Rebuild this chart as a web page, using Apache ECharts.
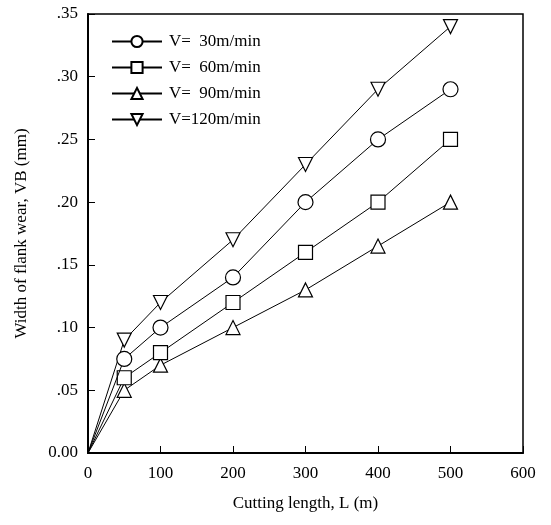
<!DOCTYPE html>
<html>
<head>
<meta charset="utf-8">
<script src="https://cdn.jsdelivr.net/npm/echarts@6/dist/echarts.min.js"></script>
<style>
  html, body { margin: 0; padding: 0; background: #fff; }
  #chart { width: 551px; height: 525px; }
</style>
</head>
<body>
<div id="chart"></div>
<script>
const lengths = [0, 50, 100, 200, 300, 400, 500]
const wearV30 = [0, 0.075, 0.10, 0.14, 0.20, 0.25, 0.29]
const wearV60 = [0, 0.06, 0.08, 0.12, 0.16, 0.20, 0.25]
const wearV90 = [0, 0.05, 0.07, 0.10, 0.13, 0.165, 0.20]
const wearV120 = [0, 0.09, 0.12, 0.17, 0.23, 0.29, 0.34]
const seriesNames = ['V=  30m/min', 'V=  60m/min', 'V=  90m/min', 'V=120m/min']
const yTickLabels = ['0.00', '.05', '.10', '.15', '.20', '.25', '.30', '.35']

const font = 'Liberation Serif'
const downTriangle = 'path://M0,0 L10,0 L5,9 Z'
const symbols = ['circle', 'rect', 'triangle', downTriangle]

function toPoints(values) {
  // origin point is drawn without a marker
  return values.map((v, i) => i === 0
    ? { value: [lengths[i], v], symbol: 'none' }
    : [lengths[i], v])
}

const allWear = [wearV30, wearV60, wearV90, wearV120]

const chart = echarts.init(document.getElementById('chart'))
chart.setOption({
  animation: false,
  grid: {
    left: 88, right: 28, top: 14, bottom: 72,
    show: true, borderColor: '#000', borderWidth: 1.5
  },
  legend: {
    left: 106, top: 28, orient: 'vertical',
    itemWidth: 50, itemHeight: 14, itemGap: 9,
    textStyle: { fontFamily: font, fontSize: 17, color: '#000', padding: [0, 0, 0, 2] },
    data: seriesNames
  },
  xAxis: {
    type: 'value', min: 0, max: 600, interval: 100,
    name: 'Cutting length, L (m)', nameLocation: 'middle', nameGap: 42,
    nameTextStyle: { fontFamily: font, fontSize: 17, color: '#000' },
    axisLine: { lineStyle: { color: '#000', width: 2 } },
    axisTick: { inside: true, length: 7, lineStyle: { color: '#000' } },
    axisLabel: { fontFamily: font, fontSize: 17, color: '#000', margin: 12 },
    splitLine: { show: false }
  },
  yAxis: {
    type: 'value', min: 0, max: 0.35, interval: 0.05,
    name: 'Width of flank wear, VB (mm)', nameLocation: 'middle', nameGap: 58,
    nameTextStyle: { fontFamily: font, fontSize: 17, color: '#000' },
    axisLine: { lineStyle: { color: '#000', width: 2 } },
    axisTick: { inside: true, length: 7, lineStyle: { color: '#000' } },
    axisLabel: {
      fontFamily: font, fontSize: 17, color: '#000', margin: 10,
      formatter: (v) => yTickLabels[Math.round(v / 0.05)]
    },
    splitLine: { show: false }
  },
  series: seriesNames.map((name, i) => ({
    name: name,
    type: 'line',
    data: toPoints(allWear[i]),
    symbol: symbols[i],
    symbolSize: i === 0 ? 15 : 14,
    showAllSymbol: true,
    lineStyle: { color: '#000', width: 1 },
    itemStyle: { color: '#fff', borderColor: '#000', borderWidth: 1.2 },
    z: 10 - i
  }))
})
</script>
</body>
</html>
